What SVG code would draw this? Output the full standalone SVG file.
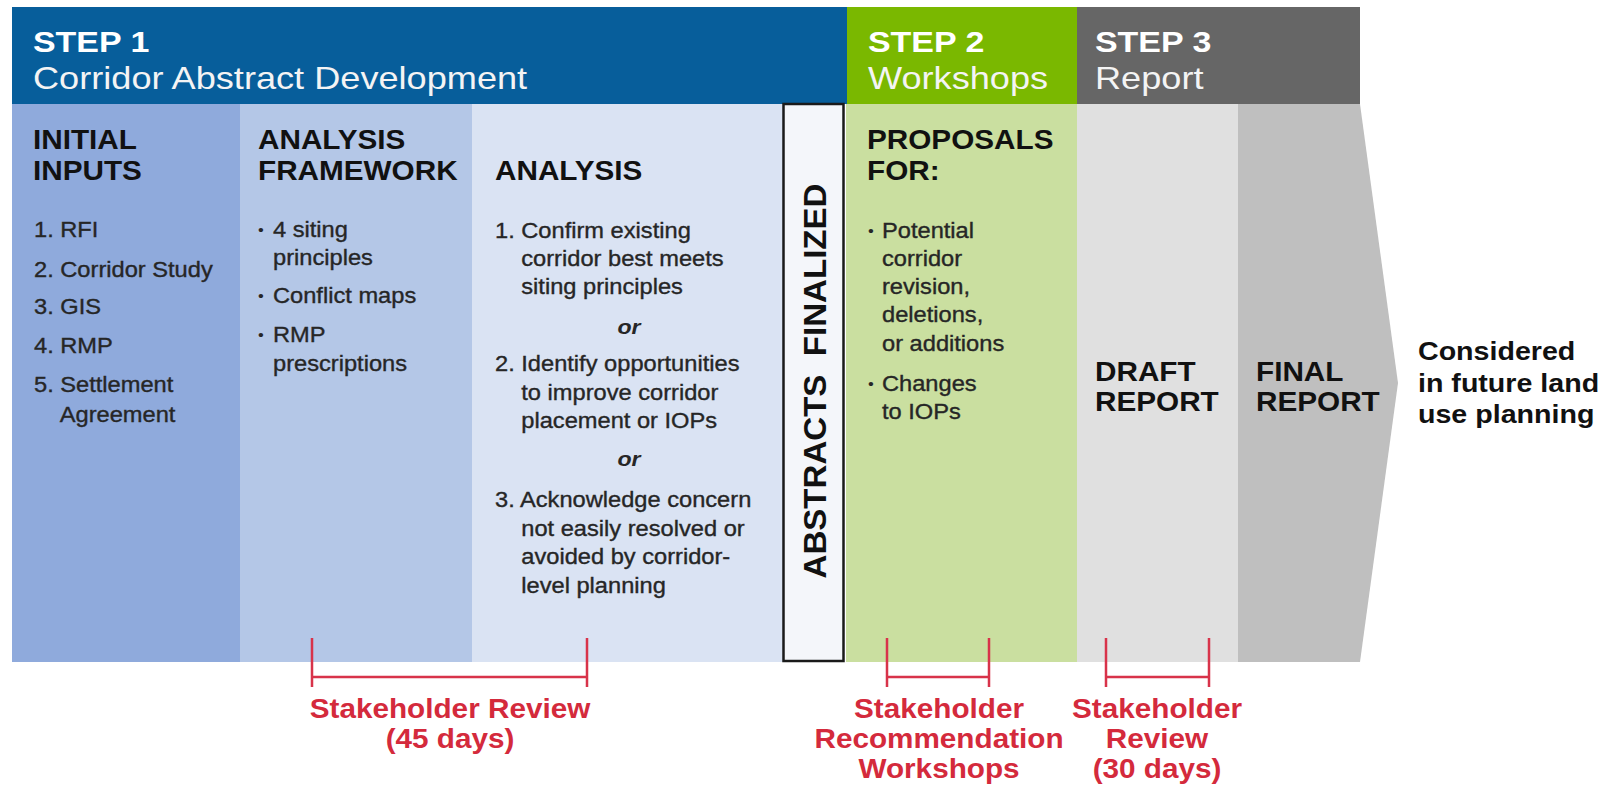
<svg xmlns="http://www.w3.org/2000/svg" width="1607" height="787" viewBox="0 0 1607 787">
<style>
text{font-family:"Liberation Sans",Arial,sans-serif}
.st{font-weight:bold;font-size:29px;fill:#fff}
.sub{font-size:32px;fill:#f4f4f4}
.h{font-weight:bold;font-size:27px;fill:#111}
.b{font-size:21.5px;fill:#262626;stroke:#262626;stroke-width:0.35}
.bul{font-size:15px;fill:#262626}
.or{font-weight:bold;font-style:italic;font-size:21px;fill:#262626}
.vt{font-weight:bold;font-size:31px;fill:#111}
.red{font-weight:bold;font-size:27px;fill:#d42a3c}
.br{stroke:#d8334a;stroke-width:2.5;fill:none}
</style>
<rect width="1607" height="787" fill="#fff"/>
<g id="step1-header">
<rect x="12" y="7" width="835" height="97" fill="#075e9b"/>
<text class="st" transform="translate(33 0) scale(1.17 1)" y="52">STEP 1</text>
<text class="sub" transform="translate(33 0) scale(1.13 1)" y="89">Corridor Abstract Development</text>
</g>
<g id="step2-header">
<rect x="847" y="7" width="230" height="97" fill="#7ab800"/>
<text class="st" transform="translate(868 0) scale(1.17 1)" y="52">STEP 2</text>
<text class="sub" transform="translate(868 0) scale(1.13 1)" y="89">Workshops</text>
</g>
<g id="step3-header">
<rect x="1077" y="7" width="283" height="97" fill="#666666"/>
<text class="st" transform="translate(1095 0) scale(1.17 1)" y="52">STEP 3</text>
<text class="sub" transform="translate(1095 0) scale(1.13 1)" y="89">Report</text>
</g>
<g id="initial-inputs">
<rect x="12" y="104" width="228" height="558" fill="#8faadc"/>
<text class="h" transform="translate(33 0) scale(1.1 1)"><tspan x="0" y="149">INITIAL</tspan><tspan x="0" y="180">INPUTS</tspan></text>
<text class="b" transform="translate(34 0) scale(1.1 1)"><tspan x="0" y="237">1. RFI</tspan><tspan x="0" y="277">2. Corridor Study</tspan><tspan x="0" y="314">3. GIS</tspan><tspan x="0" y="353">4. RMP</tspan><tspan x="0" y="392">5. Settlement</tspan><tspan x="23.4" y="422">Agreement</tspan></text>
</g>
<g id="analysis-framework">
<rect x="240" y="104" width="232" height="558" fill="#b4c7e7"/>
<text class="h" transform="translate(258 0) scale(1.1 1)"><tspan x="0" y="149">ANALYSIS</tspan><tspan x="0" y="180">FRAMEWORK</tspan></text>
<text class="bul" transform="translate(258 0) scale(1.1 1)"><tspan x="0" y="235">•</tspan><tspan x="0" y="301">•</tspan><tspan x="0" y="340">•</tspan></text>
<text class="b" transform="translate(273 0) scale(1.1 1)"><tspan x="0" y="237">4 siting</tspan><tspan x="0" y="265">principles</tspan><tspan x="0" y="303">Conflict maps</tspan><tspan x="0" y="342">RMP</tspan><tspan x="0" y="371">prescriptions</tspan></text>
</g>
<g id="analysis">
<rect x="472" y="104" width="311" height="558" fill="#dae3f3"/>
<text class="h" transform="translate(495 0) scale(1.1 1)" y="180">ANALYSIS</text>
<text class="b" transform="translate(495 0) scale(1.1 1)"><tspan x="0" y="238">1. Confirm existing</tspan><tspan x="23.9" y="266">corridor best meets</tspan><tspan x="23.9" y="294">siting principles</tspan><tspan x="0" y="371">2. Identify opportunities</tspan><tspan x="23.9" y="400">to improve corridor</tspan><tspan x="23.9" y="428">placement or IOPs</tspan><tspan x="0" y="507">3. Acknowledge concern</tspan><tspan x="23.9" y="536">not easily resolved or</tspan><tspan x="23.9" y="564">avoided by corridor-</tspan><tspan x="23.9" y="593">level planning</tspan></text>
<text class="or" text-anchor="middle" transform="translate(629 0) scale(1.1 1)"><tspan x="0" y="334">or</tspan><tspan x="0" y="466">or</tspan></text>
</g>
<g id="abstracts-finalized">
<rect x="783.5" y="104" width="60" height="557" fill="#f4f6fa" stroke="#1a1a1a" stroke-width="2.5"/>
<text class="vt" xml:space="preserve" text-anchor="middle" transform="translate(826 381) rotate(-90)" x="0" y="0" textLength="395" lengthAdjust="spacingAndGlyphs">ABSTRACTS  FINALIZED</text>
</g>
<g id="proposals">
<rect x="846" y="104" width="231" height="558" fill="#cadfa0"/>
<text class="h" transform="translate(867 0) scale(1.1 1)"><tspan x="0" y="149">PROPOSALS</tspan><tspan x="0" y="180">FOR:</tspan></text>
<text class="bul" transform="translate(868 0) scale(1.1 1)"><tspan x="0" y="236">•</tspan><tspan x="0" y="389">•</tspan></text>
<text class="b" transform="translate(882 0) scale(1.1 1)"><tspan x="0" y="238">Potential</tspan><tspan x="0" y="266">corridor</tspan><tspan x="0" y="294">revision,</tspan><tspan x="0" y="322">deletions,</tspan><tspan x="0" y="351">or additions</tspan><tspan x="0" y="391">Changes</tspan><tspan x="0" y="419">to IOPs</tspan></text>
</g>
<g id="draft-report">
<rect x="1077" y="104" width="161" height="558" fill="#e0e0e0"/>
<text class="h" transform="translate(1095 0) scale(1.1 1)"><tspan x="0" y="381">DRAFT</tspan><tspan x="0" y="411">REPORT</tspan></text>
</g>
<g id="final-report">
<polygon points="1238,104 1360,104 1398,383 1360,662 1238,662" fill="#bfbfbf"/>
<text class="h" transform="translate(1256 0) scale(1.1 1)"><tspan x="0" y="381">FINAL</tspan><tspan x="0" y="411">REPORT</tspan></text>
</g>
<g id="outcome">
<text class="h" style="font-size:26px" transform="translate(1418 0) scale(1.1 1)"><tspan x="0" y="360">Considered</tspan><tspan x="0" y="392">in future land</tspan><tspan x="0" y="423">use planning</tspan></text>
</g>
<g id="connectors">
<g id="review-45">
<path class="br" d="M312 638V687M587 638V687M312 677H587"/>
<text class="red" text-anchor="middle" transform="translate(450 0) scale(1.1 1)"><tspan x="0" y="718">Stakeholder Review</tspan><tspan x="0" y="748">(45 days)</tspan></text>
</g>
<g id="workshops-bracket">
<path class="br" d="M887 638V687M989 638V687M887 677H989"/>
<text class="red" text-anchor="middle" transform="translate(939 0) scale(1.1 1)"><tspan x="0" y="718">Stakeholder</tspan><tspan x="0" y="748">Recommendation</tspan><tspan x="0" y="778">Workshops</tspan></text>
</g>
<g id="review-30">
<path class="br" d="M1106 638V687M1209 638V687M1106 677H1209"/>
<text class="red" text-anchor="middle" transform="translate(1157 0) scale(1.1 1)"><tspan x="0" y="718">Stakeholder</tspan><tspan x="0" y="748">Review</tspan><tspan x="0" y="778">(30 days)</tspan></text>
</g>
</g>
</svg>
